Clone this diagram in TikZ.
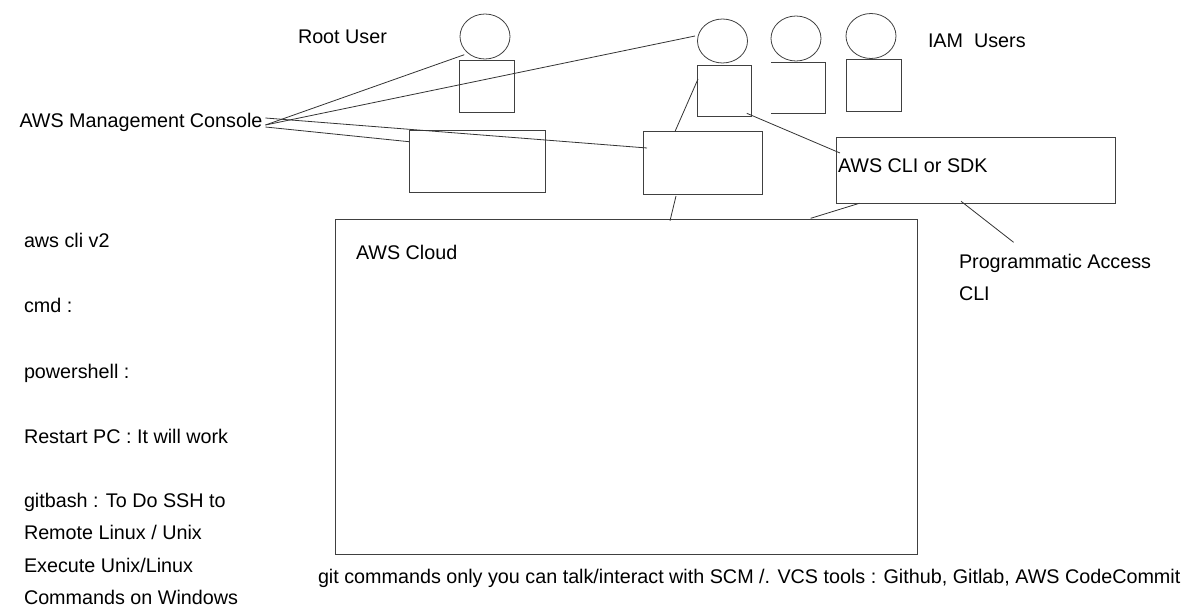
\documentclass[tikz,border=0pt]{standalone}
\usepackage{fontspec}
\setmainfont{Liberation Sans}
\usetikzlibrary{shapes.geometric}
\tikzset{
  shp/.style={draw=black!75,line width=0.8bp,inner sep=0pt,outer sep=0pt},
  headshape/.style={shp,ellipse},
  plainbox/.style={inner sep=0pt,outer sep=0pt},
  lbl/.style={inner sep=0pt,outer sep=0pt,anchor=base west,font=\fontsize{19.75bp}{23bp}\selectfont,text=black},
  ln/.style={draw=black!80,line width=0.8bp}
}
\begin{document}
\begin{tikzpicture}[x=1bp,y=-1bp]
\useasboundingbox (0,0) rectangle (1191,614);
% heads
\node[headshape,minimum width=50bp,minimum height=45bp] (roothead) at (485,36.5) {};
\node[headshape,minimum width=50bp,minimum height=44bp] (iamheada) at (722.5,41) {};
\node[headshape,minimum width=50bp,minimum height=45bp] (iamheadb) at (796,38.5) {};
\node[headshape,minimum width=50bp,minimum height=45bp] (iamheadc) at (871,36) {};
% bodies
\node[shp,minimum width=55bp,minimum height=52bp] (rootbody) at (487,86) {};
\node[shp,minimum width=54.5bp,minimum height=51.5bp] (iambodya) at (724.25,90.75) {};
\node[plainbox,minimum width=54bp,minimum height=51.5bp] (iambodyb) at (798,87.75) {};
\draw[shp] (iambodyb.north west) -- (iambodyb.north east) -- (iambodyb.south east) -- (iambodyb.south west);
\node[shp,minimum width=55bp,minimum height=51.5bp] (iambodyc) at (873.5,85.25) {};
% boxes
\node[shp,minimum width=136bp,minimum height=62bp] (boxa) at (477,161) {};
\node[shp,minimum width=119bp,minimum height=62.5bp] (boxb) at (702.5,162.75) {};
\node[shp,minimum width=279bp,minimum height=65.5bp] (clibox) at (975.5,170.5) {};
\node[shp,minimum width=582bp,minimum height=334.5bp] (cloud) at (626,387) {};
% labels
\node[lbl] (rootlbl) at (298,44) {Root User};
\node[lbl] (iamlbl) at (928,48) {IAM\ \ Users};
\node[lbl] (console) at (19.5,128) {AWS Management Console};
\node[lbl] (clilbl) at (838,173) {AWS CLI or SDK};
\node[lbl] (cloudlbl) at (356,260) {AWS Cloud};
\node[lbl] (proglbl) at (959,269) {Programmatic Access};
\node[lbl] (clitxt) at (959,301) {CLI};
\node[lbl] (l1) at (24,248) {aws cli v2};
\node[lbl] (l2) at (24,313) {cmd :};
\node[lbl] (l3) at (24,378) {powershell :};
\node[lbl] (l4) at (24,443) {Restart PC : It will work};
\node[lbl] (l5) at (24,507.5) {gitbash : To Do SSH to};
\node[lbl] (l6) at (24,539.8) {Remote Linux / Unix};
\node[lbl] (l7) at (24,572) {Execute Unix/Linux};
\node[lbl] (l8) at (24,604.5) {Commands on Windows};
\node[lbl] (gitlbl) at (318,583) {git commands only you can talk/interact with SCM /. VCS tools : Github, Gitlab, AWS CodeCommit};
\coordinate (progend) at (1013.6,242.3);
% connectors
\draw[ln] ([xshift=3bp,yshift=3bp]console.base east) -- ([xshift=-4bp,yshift=-1.5bp]roothead.225);
\draw[ln] ([xshift=3bp,yshift=3bp]console.base east) -- ([xshift=-2.5bp,yshift=5bp]iamheada.west);
\draw[ln] ([xshift=3bp,yshift=1bp]console.base east) -- ([yshift=19.3bp]boxa.west);
\draw[ln] ([xshift=3bp,yshift=10bp]console.base east) -- ([xshift=4bp,yshift=14.75bp]boxb.west);
\draw[ln] ([xshift=-27.5bp]boxb.north) -- ([xshift=1bp,yshift=11.75bp]iambodya.west);
\draw[ln] ([xshift=22.5bp,yshift=3.2bp]iambodya.south) -- ([xshift=4bp,yshift=17.5bp]clibox.west);
\draw[ln] ([xshift=-26.5bp,yshift=-2bp]boxb.south) -- ([xshift=44bp,yshift=-1bp]cloud.north);
\draw[ln] ([xshift=-116bp]clibox.south) -- ([xshift=184.6bp,yshift=1.4bp]cloud.north);
\draw[ln] ([xshift=-14.5bp,yshift=2bp]clibox.south) -- (progend);
\end{tikzpicture}
\end{document}
